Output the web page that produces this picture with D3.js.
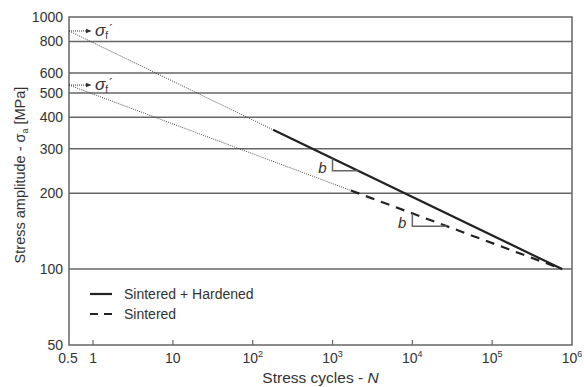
<!DOCTYPE html>
<html>
<head>
<meta charset="UTF-8">
<script src="https://cdnjs.cloudflare.com/ajax/libs/d3/7.8.5/d3.min.js"></script>
<style>
  body { margin: 0; background: #fff; }
  text { font-family: "Liberation Sans", Arial, sans-serif; fill: #333; }
</style>
</head>
<body>
<script>
// tick values
var xTicks = [0.5, 1, 10, 1e2, 1e3, 1e4, 1e5, 1e6];
var yTicks = [50, 100, 200, 300, 400, 500, 600, 800, 1000];

// Basquin lines [N, stress]
var hardenedFit  = [[0.5, 880], [180, 357]];
var hardenedLine = [[180, 357], [7.5e5, 100]];
var sinteredFit  = [[0.5, 537], [1700, 205]];
var sinteredLine = [[1700, 205], [7.5e5, 100]];

// slope triangles: [N start, N end]
var hardenedTri = [1000, 2100];
var sinteredTri = [1e4, 27000];

var width = 584, height = 387;
var margin = {left: 69, right: 12, top: 17, bottom: 42};

var svg = d3.select("body").append("svg")
    .attr("width", width)
    .attr("height", height);

var x = d3.scaleLog().domain([0.5, 1e6]).range([margin.left, width - margin.right]);
var y = d3.scaleLog().domain([50, 1000]).range([height - margin.bottom, margin.top]);

var gridColor = "#666";

// gridlines
svg.append("g").selectAll("line")
    .data(yTicks.filter(function (d) { return d > 50 && d < 1000; }))
    .enter().append("line")
    .attr("x1", x(0.5)).attr("x2", x(1e6))
    .attr("y1", function (d) { return y(d); })
    .attr("y2", function (d) { return y(d); })
    .attr("stroke", gridColor)
    .attr("stroke-width", 1.5);

// frame
svg.append("rect")
    .attr("x", x(0.5)).attr("y", y(1000))
    .attr("width", x(1e6) - x(0.5))
    .attr("height", y(50) - y(1000))
    .attr("fill", "none")
    .attr("stroke", gridColor)
    .attr("stroke-width", 1.5);

// y labels
svg.append("g").selectAll("text")
    .data(yTicks)
    .enter().append("text")
    .attr("x", x(0.5) - 6)
    .attr("y", function (d) { return y(d) + 5; })
    .attr("text-anchor", "end")
    .attr("font-size", 14)
    .text(function (d) { return d; });

// x ticks (inward)
svg.append("g").selectAll("line")
    .data(xTicks.filter(function (d) { return d >= 1 && d < 1e6; }))
    .enter().append("line")
    .attr("x1", function (d) { return x(d); })
    .attr("x2", function (d) { return x(d); })
    .attr("y1", y(50)).attr("y2", y(50) - 5)
    .attr("stroke", gridColor)
    .attr("stroke-width", 1.2);

// x labels
var xl = svg.append("g").selectAll("text")
    .data(xTicks)
    .enter().append("text")
    .attr("x", function (d) { return x(d) + (d === 0.5 ? -1 : 0); })
    .attr("y", y(50) + 18)
    .attr("text-anchor", "middle")
    .attr("font-size", 14);
xl.each(function (d) {
    var t = d3.select(this);
    if (d < 100) {
        t.text(d);
    } else {
        t.append("tspan").text("10");
        t.append("tspan").attr("dy", -6).attr("font-size", 9).text(Math.round(Math.log10(d)));
    }
});

// axis titles
svg.append("text")
    .attr("x", (x(0.5) + x(1e6)) / 2)
    .attr("y", height - 4)
    .attr("text-anchor", "middle")
    .attr("font-size", 15.5)
    .call(function (t) {
        t.append("tspan").text("Stress cycles - ");
        t.append("tspan").attr("font-style", "italic").text("N");
    });

svg.append("text")
    .attr("transform", "translate(25,175) rotate(-90)")
    .attr("text-anchor", "middle")
    .attr("font-size", 14.5)
    .call(function (t) {
        t.append("tspan").text("Stress amplitude - σ");
        t.append("tspan").attr("font-size", 9).attr("dy", 3).text("a");
        t.append("tspan").attr("dy", -3).text(" [MPa]");
    });

var line = d3.line()
    .x(function (d) { return x(d[0]); })
    .y(function (d) { return y(d[1]); });

function drawFit(data) {
    svg.append("path").attr("d", line(data))
        .attr("fill", "none").attr("stroke", "#444")
        .attr("stroke-width", 1).attr("stroke-dasharray", "1,1.2");
}
drawFit(hardenedFit);
drawFit(sinteredFit);

svg.append("path").attr("d", line(sinteredLine))
    .attr("fill", "none").attr("stroke", "#222")
    .attr("stroke-width", 2.2).attr("stroke-dasharray", "9,7");
svg.append("path").attr("d", line(hardenedLine))
    .attr("fill", "none").attr("stroke", "#222")
    .attr("stroke-width", 2.2);

// slope triangles
function onLine(seg, n) {
    var a = seg[0], b = seg[1];
    var t = (Math.log(n) - Math.log(a[0])) / (Math.log(b[0]) - Math.log(a[0]));
    return Math.exp(Math.log(a[1]) + t * (Math.log(b[1]) - Math.log(a[1])));
}
function drawTri(seg, tri) {
    var s1 = onLine(seg, tri[0]), s2 = onLine(seg, tri[1]);
    svg.append("path")
        .attr("d", line([[tri[0], s1], [tri[0], s2], [tri[1], s2]]))
        .attr("fill", "none").attr("stroke", "#666").attr("stroke-width", 1.5);
    svg.append("text")
        .attr("x", x(tri[0]) - 6)
        .attr("y", y(s2) + 2)
        .attr("text-anchor", "end")
        .attr("font-size", 15)
        .attr("font-style", "italic")
        .text("b");
}
drawTri(hardenedLine, hardenedTri);
drawTri(sinteredLine, sinteredTri);

// sigma_f' markers
var defs = svg.append("defs");
defs.append("marker").attr("id", "arr")
    .attr("viewBox", "0 0 10 10").attr("refX", 9).attr("refY", 5)
    .attr("markerWidth", 6).attr("markerHeight", 6).attr("orient", "auto")
    .append("path").attr("d", "M0,1 L10,5 L0,9 Z").attr("fill", "#333");

[hardenedFit[0][1], sinteredFit[0][1]].forEach(function (s) {
    var yy = y(s);
    svg.append("line")
        .attr("x1", x(0.5)).attr("x2", x(0.5) + 22)
        .attr("y1", yy).attr("y2", yy)
        .attr("stroke", "#333").attr("stroke-width", 1)
        .attr("stroke-dasharray", "1,1")
        .attr("marker-end", "url(#arr)");
    var t = svg.append("text")
        .attr("x", x(0.5) + 26).attr("y", yy + 5)
        .attr("font-size", 17);
    t.append("tspan").attr("font-style", "italic").text("σ");
    t.append("tspan").attr("font-size", 10).attr("dy", 3).text("f");
    t.append("tspan").attr("font-size", 12).attr("dy", -5).attr("dx", 1).text("´");
});

// legend
var legend = [
    {label: "Sintered + Hardened", dash: null},
    {label: "Sintered", dash: "8,6"}
];
legend.forEach(function (d, i) {
    var yy = 294 + i * 20;
    svg.append("line")
        .attr("x1", 90).attr("x2", 112)
        .attr("y1", yy).attr("y2", yy)
        .attr("stroke", "#222").attr("stroke-width", 2.2)
        .attr("stroke-dasharray", d.dash);
    svg.append("text")
        .attr("x", 124).attr("y", yy + 5)
        .attr("font-size", 14)
        .text(d.label);
});
</script>
</body>
</html>
